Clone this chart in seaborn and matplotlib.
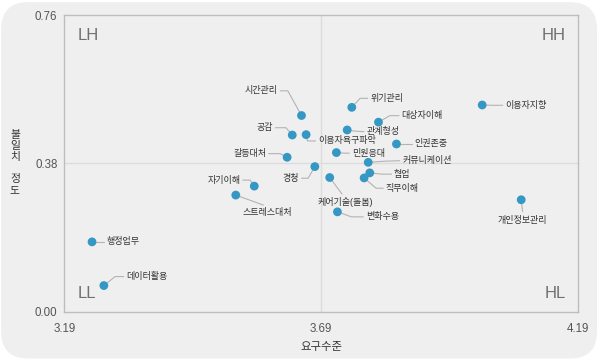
import numpy as np
import pandas as pd
import seaborn as sns
import matplotlib.pyplot as plt
from matplotlib.patches import FancyBboxPatch
from matplotlib.lines import Line2D
from matplotlib.transforms import IdentityTransform

sns.set_theme(style="white")
plt.rcParams['font.family'] = ['Liberation Sans', 'Noto Sans CJK KR', 'DejaVu Sans']

# data
names = ['시간관리', '공감', '갈등대처', '경청', '자기이해', '스트레스대처', '행정업무', '데이터활용',
         '이용자욕구파악', '위기관리', '대상자이해', '관계형성', '인권존중', '민원응대', '커뮤니케이션',
         '협업', '직무이해', '케어기술(돌봄)', '변화수용', '이용자지향', '개인정보관리']
demand = [3.652, 3.634, 3.624, 3.678, 3.560, 3.524, 3.244, 3.267,
          3.661, 3.750, 3.802, 3.741, 3.837, 3.720, 3.782,
          3.785, 3.774, 3.707, 3.722, 4.004, 4.080]
gap = [0.503, 0.453, 0.396, 0.372, 0.322, 0.299, 0.179, 0.067,
       0.454, 0.524, 0.486, 0.466, 0.430, 0.408, 0.383,
       0.356, 0.343, 0.344, 0.256, 0.530, 0.287]
x_ticks = [3.19, 3.69, 4.19]
y_ticks = [0.00, 0.38, 0.76]

# label layout in pixels from the point (right, down): text pos, ha, elbow
layout = {
    '시간관리': (-23.7, -24.7, 'right', -13.7, -24.7),
    '공감': (-19.3, -7.3, 'right', -6.3, -7.3),
    '갈등대처': (-21, -3.6, 'right', -7, -3.6),
    '경청': (-15.7, 11.6, 'right', -6.7, 11.6),
    '자기이해': (-14, -6, 'right', -4, -6),
    '스트레스대처': (31, 17.5, 'center', 27.6, 10),
    '행정업무': (14.7, 0, 'left', 8, 0),
    '데이터활용': (22.3, -9, 'left', 11.3, -9),
    '이용자욕구파악': (12, 6.3, 'left', 1.3, 6.3),
    '위기관리': (18.3, -9, 'left', 8.3, -9),
    '대상자이해': (23, -6.5, 'left', 11.3, -6.5),
    '관계형성': (19.4, 1.7, 'left', 8, 1.2),
    '인권존중': (17.6, 0, 'left', 8, 0),
    '민원응대': (15.4, 0.6, 'left', 8, 0.6),
    '커뮤니케이션': (34, -1.6, 'left', 18, -1.2),
    '협업': (24.3, 1.3, 'left', 12, 1.3),
    '직무이해': (21.7, 10.3, 'left', 12, 10.3),
    '케어기술(돌봄)': (15.3, 24, 'center', 12.3, 16.5),
    '변화수용': (28.4, 5, 'left', 14, 5),
    '이용자지향': (23, 0.3, 'left', 10, 0.3),
    '개인정보관리': (1.5, 21, 'center', 1.4, 12),
}

df = pd.DataFrame({'name': names, 'demand': demand, 'gap': gap})

fig = plt.figure(figsize=(6, 3.6), dpi=100)
fig.patch.set_facecolor('white')
bg = FancyBboxPatch((0.002, 0.004), 0.993, 0.99, boxstyle='round,pad=0,rounding_size=0.045',
                    transform=fig.transFigure, facecolor='#efefef', edgecolor='none',
                    mutation_aspect=600 / 360, zorder=-5)
fig.patches.append(bg)

ax = fig.add_axes([0.1072, 0.1342, 0.8556, 0.8233])
ax.set_facecolor('none')
ax.set_zorder(1)

ax.axvline(x_ticks[1], color='#dcdcdc', lw=1, zorder=1)
ax.axhline(y_ticks[1], color='#dcdcdc', lw=1, zorder=1)

sns.scatterplot(data=df, x='demand', y='gap', ax=ax, s=40, color='#3597c3',
                edgecolor='none', linewidth=0, zorder=4)

ax.set_xlim(x_ticks[0], x_ticks[-1])
ax.set_ylim(y_ticks[0], y_ticks[-1])
ax.set_xticks(x_ticks)
ax.set_yticks(y_ticks)
ax.set_xticklabels([f'{v:.2f}' for v in x_ticks])
ax.set_yticklabels([f'{v:.2f}' for v in y_ticks])
ax.tick_params(axis='x', length=0, pad=8, labelsize=8.3, labelcolor='#555555')
ax.tick_params(axis='y', length=0, pad=5, labelsize=8.3, labelcolor='#555555')
ax.set_xlabel('')
ax.set_ylabel('')
for side in ['top', 'right', 'bottom', 'left']:
    ax.spines[side].set_visible(True)
    ax.spines[side].set_color('#bdbdbd')
    ax.spines[side].set_linewidth(1)

# point labels with leader lines
for n, xv, yv in zip(names, demand, gap):
    tx, ty, ha, ex, ey = layout[n]
    bx, by = ax.transData.transform((xv, yv))
    xs = [bx, bx + ex]
    ys = [by, by - ey]
    if ha == 'left':
        xs.append(bx + tx - 2.5)
        ys.append(by - ty)
    elif ha == 'right':
        xs.append(bx + tx + 2.5)
        ys.append(by - ty)
    ax.add_line(Line2D(xs, ys, transform=IdentityTransform(), color='#b3b3b3',
                       lw=0.8, zorder=3))
    ax.annotate(n, xy=(xv, yv), xytext=(tx, -ty), textcoords='offset pixels',
                ha=ha, va='center', fontsize=6.5, color='#333333', zorder=5)

# quadrant labels
qkw = dict(transform=ax.transAxes, fontsize=12, color='#707070', va='center')
ax.text(0.0253, 0.932, 'LH', ha='left', **qkw)
ax.text(0.9766, 0.932, 'HH', ha='right', **qkw)
ax.text(0.0253, 0.062, 'LL', ha='left', **qkw)
ax.text(0.9766, 0.062, 'HL', ha='right', **qkw)

fig.text(0.535, 0.036, '요구수준', ha='center', va='center', fontsize=8.2, color='#333333')
fig.text(0.025, 0.549, '불\n일\n치\n\n정\n도', ha='center', va='center', fontsize=7.8,
         color='#333333', linespacing=1.12)

fig.savefig('out.png', dpi=100, facecolor='white')
